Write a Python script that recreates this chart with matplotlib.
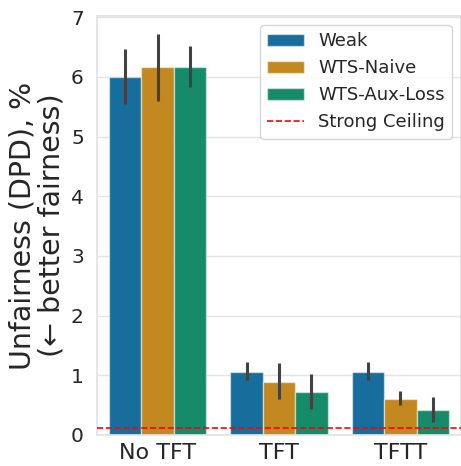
import matplotlib
matplotlib.use('agg')
import matplotlib.pyplot as plt
import seaborn as sns
import numpy as np

sns.set_theme(style='whitegrid')
plt.rcParams['font.family'] = ['DejaVu Sans']

groups = ['No TFT', 'TFT', 'TFTT']
methods = ['Weak', 'WTS-Naive', 'WTS-Aux-Loss']
means = {
    'Weak': [6.0, 1.06, 1.06],
    'WTS-Naive': [6.17, 0.89, 0.61],
    'WTS-Aux-Loss': [6.17, 0.72, 0.42],
}
err_low = {
    'Weak': [5.55, 0.92, 0.92],
    'WTS-Naive': [5.60, 0.60, 0.51],
    'WTS-Aux-Loss': [5.83, 0.43, 0.22],
}
err_high = {
    'Weak': [6.47, 1.23, 1.23],
    'WTS-Naive': [6.72, 1.20, 0.74],
    'WTS-Aux-Loss': [6.52, 1.02, 0.63],
}
strong_ceiling = 0.11

colors = sns.color_palette('colorblind', 3)
colors = [sns.desaturate(c, 0.75) for c in colors]

fig = plt.figure(figsize=(4.61, 4.66), dpi=100)
ax = fig.add_axes([97 / 461, 1 - 435 / 466, 364 / 461, 419 / 466])

x = np.arange(len(groups))
w = 0.8 / len(methods)
handles = []
for i, m in enumerate(methods):
    pos = x - 0.4 + w / 2 + i * w
    b = ax.bar(pos, means[m], width=w, color=colors[i], edgecolor=(1, 1, 1, 0.5),
               linewidth=1, label=m, zorder=2)
    handles.append(b)
    lo = np.array(err_low[m])
    hi = np.array(err_high[m])
    ax.vlines(pos, lo, hi, color='#424242', linewidth=2.2, zorder=3)

line = ax.axhline(strong_ceiling, color='red', linestyle='--', linewidth=1.2,
                  label='Strong Ceiling', zorder=4)
handles.append(line)

ax.set_xlim(-0.5, 2.5)
ax.set_ylim(0, 7.02)
ax.set_xticks(x)
ax.set_xticklabels(groups, fontsize=16, color='#262626')
ax.tick_params(axis='x', pad=0)
ax.tick_params(axis='y', labelsize=14.5, labelcolor='#262626')
ax.set_yticks(range(0, 8))
ax.set_ylabel('Unfairness (DPD), %\n(← better fairness)', fontsize=20.5,
              color='#262626', linespacing=1.05)
ax.grid(axis='x', visible=False)
ax.grid(axis='y', color='#e3e3e3')
for s in ax.spines.values():
    s.set_color('#e3e3e3')

ax.legend(handles=handles, labels=methods + ['Strong Ceiling'],
          loc='upper right', fontsize=13, handlelength=2)

fig.savefig('out.png', dpi=100)
